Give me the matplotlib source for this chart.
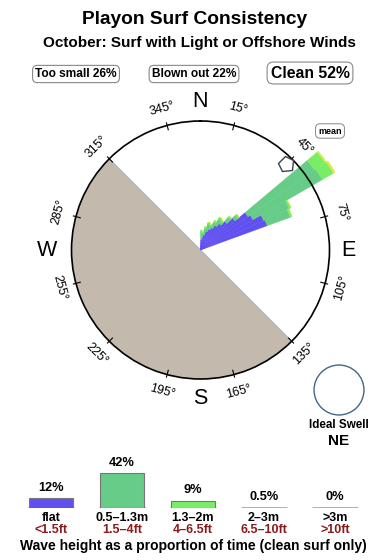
import numpy as np
import matplotlib
matplotlib.use("Agg")
import matplotlib.pyplot as plt
from matplotlib.markers import MarkerStyle
from matplotlib.transforms import Affine2D

plt.rcParams['font.family'] = ['Liberation Sans', 'DejaVu Sans']

# summary numbers
title = "Playon Surf Consistency"
subtitle = "October: Surf with Light or Offshore Winds"
summary_labels = ["Too small 26%", "Blown out 22%", "Clean 52%"]

# swell rose (bearing of bin centre, stacked lengths as fraction of the ring)
rose_dirs = [2.5, 7.5, 12.5, 17.5, 22.5, 27.5, 32.5, 37.5, 42.5, 47.5, 52.5, 57.5, 62.5, 67.5]
rose_width = 5
rose_flat = [0.08, 0.10, 0.12, 0.15, 0.17, 0.19, 0.22, 0.25, 0.29, 0.35, 0.45, 0.47, 0.54, 0.55]
rose_small = [0.06, 0.03, 0.05, 0.06, 0.03, 0.05, 0.06, 0.02, 0.04, 0.03, 0.63, 0.62, 0.22, 0.19]
rose_mid = [0.015, 0.015, 0.015, 0.015, 0.015, 0.015, 0.015, 0.015, 0.015, 0.015, 0.10, 0.10, 0.015, 0.015]
rose_big = [0, 0, 0, 0, 0, 0, 0, 0, 0, 0, 0.012, 0.015, 0, 0]
mean_dir = 45
land_from, land_to = 135, 315
ideal_swell = "NE"

# wave height histogram
heights_m = ["flat", "0.5\u20131.3m", "1.3\u20132m", "2\u20133m", ">3m"]
heights_ft = ["<1.5ft", "1.5\u20134ft", "4\u20136.5ft", "6.5\u201310ft", ">10ft"]
height_pct = [12, 42, 9, 0.5, 0]
height_lbl = ["12%", "42%", "9%", "0.5%", "0%"]

c_flat = '#6050F0'
c_small = '#66CC88'
c_mid = '#77EE66'
c_big = '#DDE844'
bar_colors = [c_flat, c_small, c_mid, c_big, '#999999']

W, H = 390, 560
fig = plt.figure(figsize=(W / 100, H / 100), dpi=100)


def fx(x):
    return x / W


def fy(y):
    return 1 - y / H


fig.text(fx(195), fy(19), title, ha='center', va='center', fontsize=13.8, fontweight='bold')
fig.text(fx(199), fy(43), subtitle, ha='center', va='center', fontsize=11, fontweight='bold')

box = dict(boxstyle='round,pad=0.22,rounding_size=0.4', fc='white', ec='#888888', lw=0.8)
fig.text(fx(76), fy(74), summary_labels[0], ha='center', va='center', fontsize=8.6, fontweight='bold', bbox=box)
fig.text(fx(194), fy(74), summary_labels[1], ha='center', va='center', fontsize=8.6, fontweight='bold', bbox=box)
fig.text(fx(310), fy(73), summary_labels[2], ha='center', va='center', fontsize=11.3, fontweight='bold', bbox=box)

# compass
cx, cy, R = 200.5, 250, 129
ax = fig.add_axes([fx(cx - R), fy(cy + R), 2 * R / W, 2 * R / H], projection='polar')
ax.set_theta_zero_location('N')
ax.set_theta_direction(-1)
ax.set_ylim(0, 1)
ax.set_xticks([])
ax.set_yticks([])
ax.grid(False)
ax.spines['polar'].set_linewidth(1.2)
ax.spines['polar'].set_zorder(5)

land_c = np.radians((land_from + land_to) / 2)
ax.bar(land_c, 1, width=np.radians(land_to - land_from), bottom=0, color='#C4B9AD',
       edgecolor='none', zorder=1)
ax.plot([np.radians(land_from)] * 2, [1, 0], color='#A8B8C8', lw=0.8, zorder=2)
ax.plot([np.radians(land_to)] * 2, [0, 1], color='#A8B8C8', lw=0.8, zorder=2)

th = np.radians(rose_dirs)
wd = np.radians(rose_width)
bottom = np.zeros(len(rose_dirs))
for vals, col in [(rose_flat, c_flat), (rose_small, c_small), (rose_mid, c_mid), (rose_big, c_big)]:
    ax.bar(th, vals, width=wd, bottom=bottom, color=col, edgecolor=col, lw=0.3,
           clip_on=False, zorder=3)
    bottom = bottom + np.array(vals)

for b in range(15, 360, 30):
    t = np.radians(b)
    ax.plot([t, t], [0.965, 1.02], color='black', lw=0.8, clip_on=False, zorder=6)
    rot = (-b + 90) % 180 - 90
    ax.text(t, 1.135, "%d\u00b0" % b, ha='center', va='center', rotation=rot,
            rotation_mode='anchor', fontsize=9, clip_on=False)

for lab, b, rr in [("N", 0, 1.15), ("E", 90, 1.145), ("S", 180, 1.15), ("W", 270, 1.19)]:
    ax.text(np.radians(b), rr, lab, ha='center', va='center', fontsize=15.5, clip_on=False)

mk = MarkerStyle('p', transform=Affine2D().rotate_deg(mean_dir + 180))
ax.plot(np.radians(mean_dir), 0.94, marker=mk, ms=12, mfc='white', mec='#334455', mew=1.0,
        clip_on=False, zorder=7)
fig.text(fx(330), fy(131), "mean", ha='center', va='center', fontsize=6.5, fontweight='bold',
         bbox=dict(boxstyle='round,pad=0.3,rounding_size=0.5', fc='white', ec='#888888', lw=0.7))

# ideal swell circle
ax2 = fig.add_axes([fx(339 - 26), fy(390 + 26), 52 / W, 52 / H])
ax2.set_xlim(-1, 1)
ax2.set_ylim(-1, 1)
ax2.axis('off')
ax2.add_patch(plt.Circle((0, 0), 0.96, fill=False, ec='#446688', lw=1))
fig.text(fx(339), fy(425), "Ideal Swell", ha='center', va='center', fontsize=8.4, fontweight='bold')
fig.text(fx(339), fy(441), ideal_swell, ha='center', va='center', fontsize=11, fontweight='bold')

# wave height histogram
x = np.arange(len(height_pct))
ax3 = fig.add_axes([fx(15.5), fy(508), 355 / W, 60 / H])
ax3.set_xlim(-0.5, len(height_pct) - 0.5)
ax3.set_ylim(0, 42 * 60 / 35)
ax3.axis('off')
ax3.hlines(np.zeros(len(x)) + 0.6, x - 0.32, x + 0.32, color='#AAAAAA', lw=2, zorder=1)
ax3.bar(x, height_pct, width=0.63, color=bar_colors, edgecolor='#777777', lw=0.8, zorder=2)
for i, v in enumerate(height_pct):
    ax3.annotate(height_lbl[i], (i, max(v, 1.2)), xytext=(0, 3), textcoords='offset points',
                 ha='center', va='bottom', fontsize=9.2, fontweight='bold', annotation_clip=False)

for i in range(len(x)):
    xc = 51 + i * 71
    fig.text(fx(xc), fy(518), heights_m[i], ha='center', va='center', fontsize=9, fontweight='bold')
    fig.text(fx(xc), fy(530), heights_ft[i], ha='center', va='center', fontsize=9,
             fontweight='bold', color='#8B1A1A')

fig.text(fx(193), fy(546), "Wave height as a proportion of time (clean surf only)", ha='center',
         va='center', fontsize=10, fontweight='bold')

fig.savefig('out.png', dpi=100)
